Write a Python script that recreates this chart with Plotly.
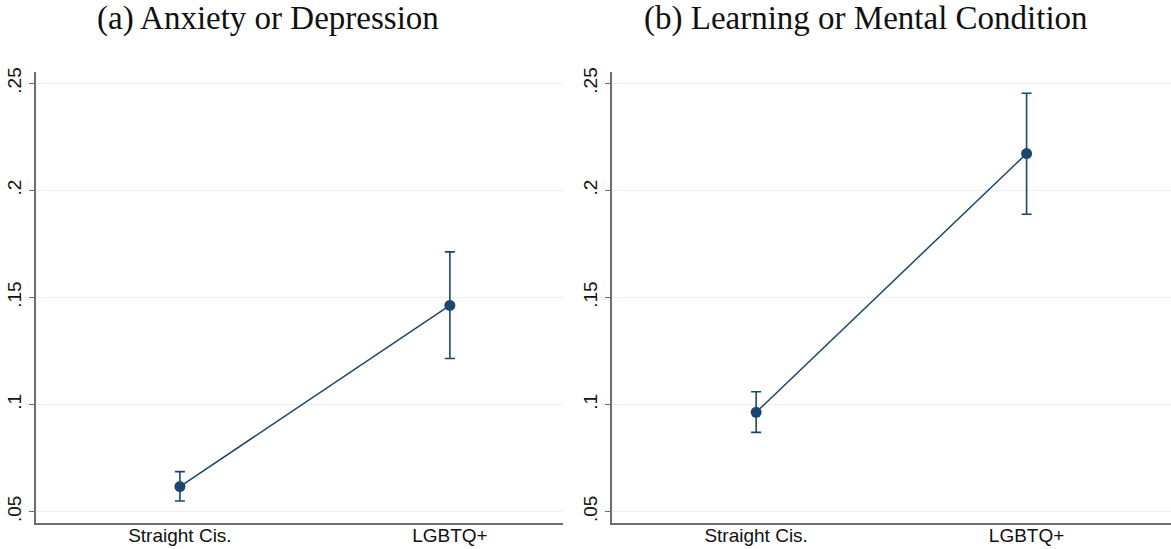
import plotly.graph_objects as go

# Estimated shares with 95% confidence bounds, by group
groups = ["Straight Cis.", "LGBTQ+"]
group_pos = [0, 1]

anx_est = [0.0617, 0.1463]
anx_lo = [0.0550, 0.1215]
anx_hi = [0.0687, 0.1713]

learn_est = [0.0964, 0.2172]
learn_lo = [0.0870, 0.1889]
learn_hi = [0.1060, 0.2454]

panel_titles = ["(a) Anxiety or Depression", "(b) Learning or Mental Condition"]
y_ticks = [0.05, 0.10, 0.15, 0.20, 0.25]
y_tick_text = [".05", ".1", ".15", ".2", ".25"]

NAVY = "#1a476f"
AXIS = "#6e6e6e"
GRID = "#e9f1f2"
W, H = 1171, 549

fig = go.Figure()


def add_panel(est, lo, hi, xa, ya):
    fig.add_trace(go.Scatter(
        x=group_pos, y=est, mode="lines+markers",
        line=dict(color=NAVY, width=1.5),
        marker=dict(color=NAVY, size=11),
        error_y=dict(type="data", symmetric=False,
                     array=[h - e for h, e in zip(hi, est)],
                     arrayminus=[e - l for e, l in zip(est, lo)],
                     color=NAVY, thickness=1.6, width=5),
        xaxis=xa, yaxis=ya, showlegend=False, hoverinfo="skip",
    ))


add_panel(anx_est, anx_lo, anx_hi, "x", "y")
add_panel(learn_est, learn_lo, learn_hi, "x2", "y2")

y_dom = [(H - 523) / H, (H - 72) / H]
x_dom1 = [36 / W, 563 / W]
x_dom2 = [612 / W, 1.0]

xcommon = dict(
    tickmode="array", tickvals=group_pos, ticktext=groups,
    showgrid=False, zeroline=False, showline=True, linecolor=AXIS, linewidth=2,
    ticks="", ticklabelstandoff=-6,
    tickfont=dict(family="Liberation Sans", size=19, color="#111"),
    automargin=False, fixedrange=True,
)
ycommon = dict(
    range=[0.0447, 0.2553], tickmode="array", tickvals=y_ticks, ticktext=y_tick_text,
    tickangle=-90, showgrid=True, gridcolor=GRID, gridwidth=1, zeroline=False,
    showline=True, linecolor=AXIS, linewidth=2, ticks="outside", ticklen=5,
    tickcolor=AXIS, tickwidth=1,
    tickfont=dict(family="Liberation Sans", size=19, color="#111"),
    automargin=False, fixedrange=True, domain=y_dom,
)

fig.update_layout(
    width=W, height=H, margin=dict(l=0, r=0, t=0, b=0),
    paper_bgcolor="white", plot_bgcolor="white",
    xaxis=dict(xcommon, domain=x_dom1, range=[-0.533, 1.419], anchor="y"),
    yaxis=dict(ycommon, anchor="x"),
    xaxis2=dict(xcommon, domain=x_dom2, range=[-0.533, 1.534], anchor="y2"),
    yaxis2=dict(ycommon, anchor="x2"),
)

title_x = [268 / W, 866 / W]
for tx, t in zip(title_x, panel_titles):
    fig.add_annotation(
        text=t, x=tx, y=1 - 18 / H, xref="paper", yref="paper",
        xanchor="center", yanchor="middle", showarrow=False,
        font=dict(family="Liberation Serif", size=33, color="#111"),
    )

fig.write_html("out.html")
